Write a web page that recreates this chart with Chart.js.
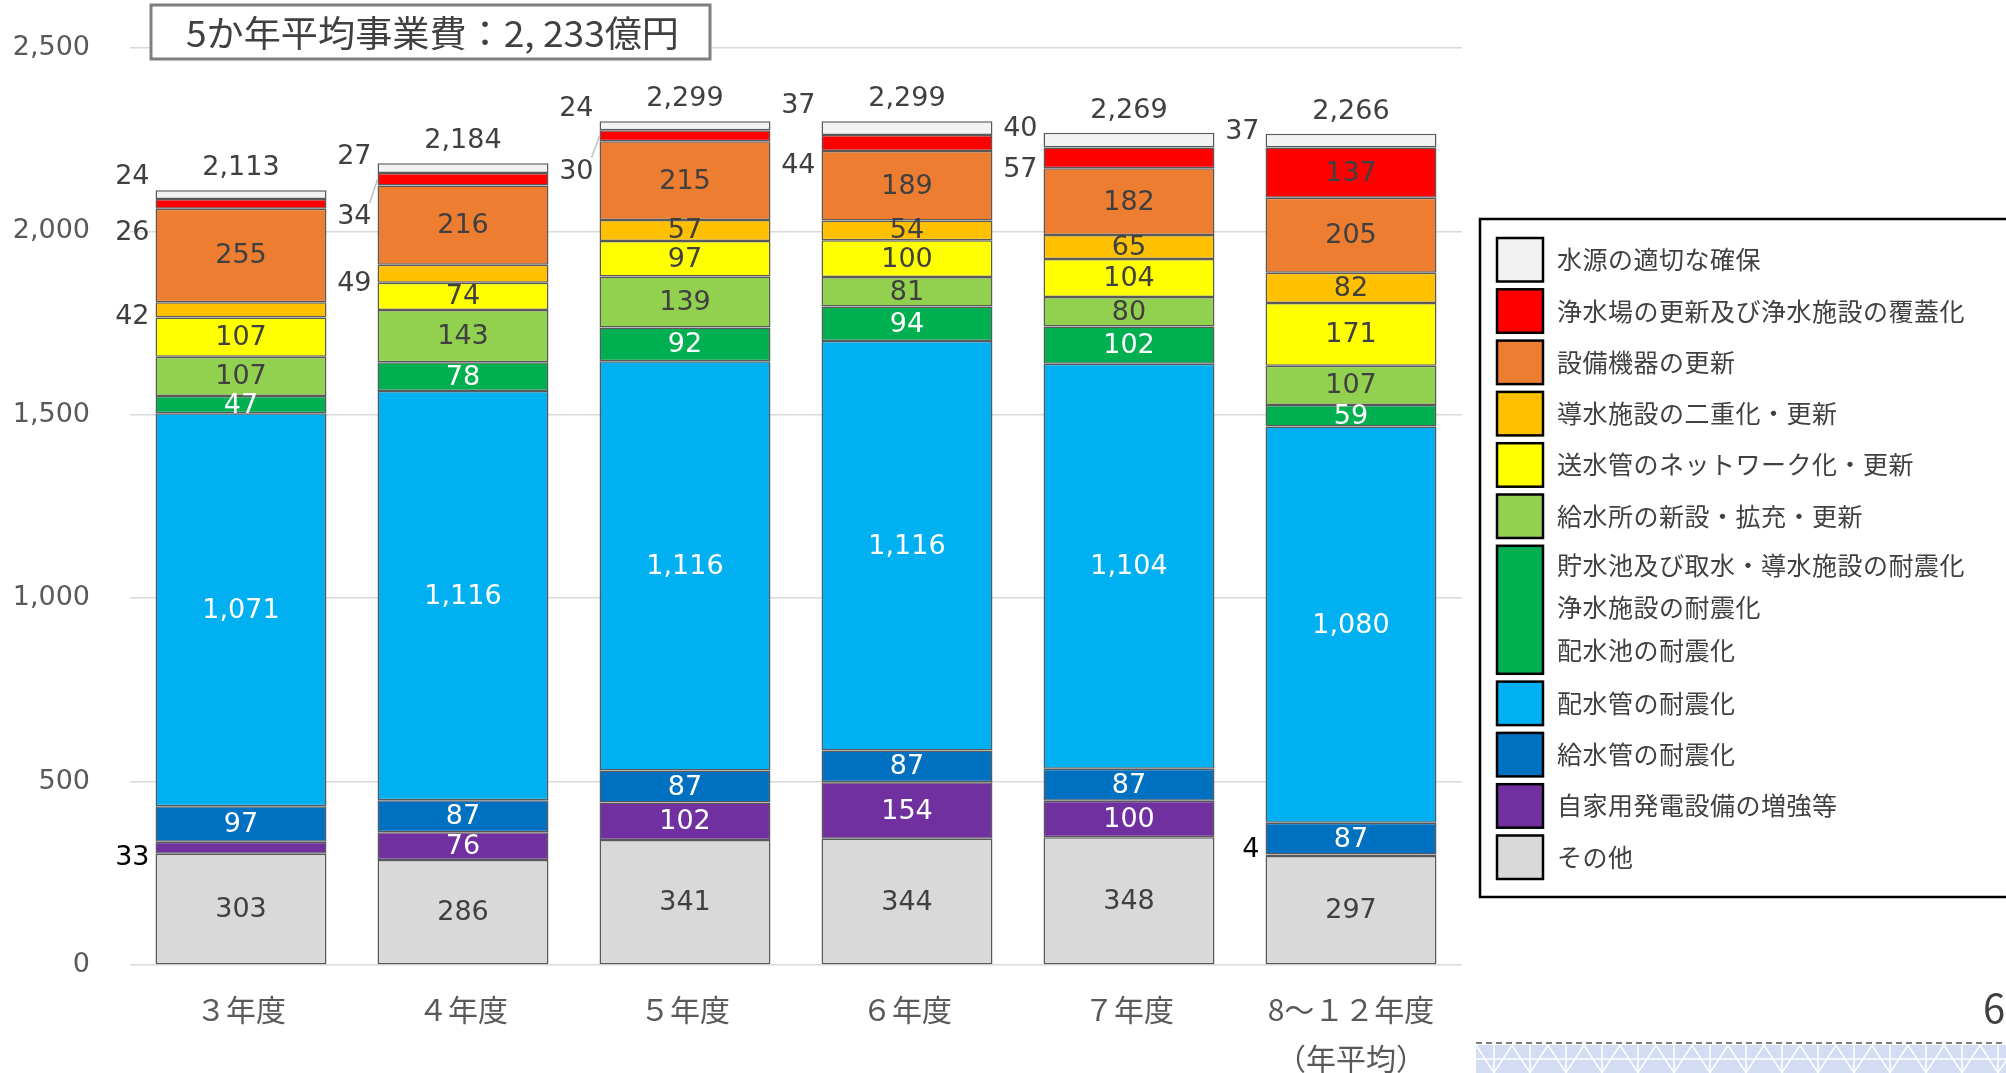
<!DOCTYPE html>
<html lang="ja">
<head>
<meta charset="utf-8">
<title>事業費の推移</title>
<script src="https://cdn.jsdelivr.net/npm/chart.js@4.4.1/dist/chart.umd.min.js"></script>
<style>
  html, body { margin: 0; padding: 0; background: #fff; }
  #wrap { width: 2006px; height: 1073px; position: relative; overflow: hidden; }
</style>
</head>
<body>
<div id="wrap"><canvas id="myChart" width="2006" height="1073"></canvas></div>
<script>
// 年度（x軸）
var categories = [['３年度'], ['４年度'], ['５年度'], ['６年度'], ['７年度'], ['8～１２年度', '（年平均）']];

// 各事業の事業費（億円）、下から積み上げ順
var sonota       = [303, 286, 341, 344, 348, 297];
var jikahatsuden = [33, 76, 102, 154, 100, 4];
var kyusuikan    = [97, 87, 87, 87, 87, 87];
var haisuikan    = [1071, 1116, 1116, 1116, 1104, 1080];
var taishin      = [47, 78, 92, 94, 102, 59];
var kyusuisho    = [107, 143, 139, 81, 80, 107];
var sosuikan     = [107, 74, 97, 100, 104, 171];
var dosui        = [42, 49, 57, 54, 65, 82];
var setsubi      = [255, 216, 215, 189, 182, 205];
var josuijo      = [26, 34, 30, 44, 57, 137];
var suigen       = [24, 27, 24, 37, 40, 37];

// 合計（グラフ上の表示値）
var totals = [2113, 2184, 2299, 2299, 2269, 2266];

// y軸の目盛
var yTicks = [0, 500, 1000, 1500, 2000, 2500];

var titleText = '5か年平均事業費：2, 233億円';

// 系列の定義（下から順）
var series = [
    { key: 'sonota',       data: sonota,       color: '#D9D9D9', text: '#404040', legend: ['その他'] },
    { key: 'jikahatsuden', data: jikahatsuden, color: '#7030A0', text: '#FFFFFF', legend: ['自家用発電設備の増強等'] },
    { key: 'kyusuikan',    data: kyusuikan,    color: '#0070C0', text: '#FFFFFF', legend: ['給水管の耐震化'] },
    { key: 'haisuikan',    data: haisuikan,    color: '#00B0F0', text: '#FFFFFF', legend: ['配水管の耐震化'] },
    { key: 'taishin',      data: taishin,      color: '#00B050', text: '#FFFFFF', legend: ['貯水池及び取水・導水施設の耐震化', '浄水施設の耐震化', '配水池の耐震化'] },
    { key: 'kyusuisho',    data: kyusuisho,    color: '#92D050', text: '#404040', legend: ['給水所の新設・拡充・更新'] },
    { key: 'sosuikan',     data: sosuikan,     color: '#FFFF00', text: '#404040', legend: ['送水管のネットワーク化・更新'] },
    { key: 'dosui',        data: dosui,        color: '#FFC000', text: '#404040', legend: ['導水施設の二重化・更新'] },
    { key: 'setsubi',      data: setsubi,      color: '#ED7D31', text: '#404040', legend: ['設備機器の更新'] },
    { key: 'josuijo',      data: josuijo,      color: '#FF0000', text: '#404040', legend: ['浄水場の更新及び浄水施設の覆蓋化'] },
    { key: 'suigen',       data: suigen,       color: '#F2F2F2', text: '#404040', legend: ['水源の適切な確保'] }
];

// 棒の外（左側）に出すラベルの位置調整
var outsideLabels = [
    { key: 'suigen', i: 0, dy: -18 }, { key: 'josuijo', i: 0, dy: 29 }, { key: 'dosui', i: 0, dy: 7 },
    { key: 'jikahatsuden', i: 0, dy: 10, color: '#000000' },
    { key: 'suigen', i: 1, dy: -11 }, { key: 'josuijo', i: 1, dy: 38, leader: true }, { key: 'dosui', i: 1, dy: 10 },
    { key: 'suigen', i: 2, dy: -17 }, { key: 'josuijo', i: 2, dy: 36, leader: true },
    { key: 'suigen', i: 3, dy: -22 }, { key: 'josuijo', i: 3, dy: 23 },
    { key: 'suigen', i: 4, dy: -11 }, { key: 'josuijo', i: 4, dy: 12 },
    { key: 'suigen', i: 5, dy: -9 }, { key: 'jikahatsuden', i: 5, dy: -5, color: '#000000' }
];

var numFont = "27px 'DejaVu Sans'";
var jpFont = "'Noto Sans CJK JP'";

function fmt(v) { return v.toLocaleString('en-US'); }

function findOutside(key, i) {
    for (var k = 0; k < outsideLabels.length; k++) {
        if (outsideLabels[k].key === key && outsideLabels[k].i === i) return outsideLabels[k];
    }
    return null;
}

// データラベル
var labelPlugin = {
    id: 'labels',
    afterDatasetsDraw: function (chart) {
        var ctx = chart.ctx;
        ctx.save();
        ctx.font = numFont;
        ctx.textBaseline = 'middle';
        chart.data.datasets.forEach(function (ds, di) {
            var meta = chart.getDatasetMeta(di);
            meta.data.forEach(function (bar, i) {
                var cy = (bar.y + bar.base) / 2;
                var out = findOutside(ds.key, i);
                var txt = fmt(ds.data[i]);
                if (out) {
                    var lx = bar.x - bar.width / 2 - 6;
                    var ly = cy + out.dy;
                    ctx.fillStyle = out.color || '#404040';
                    ctx.textAlign = 'right';
                    ctx.fillText(txt, lx, ly);
                    if (out.leader) {
                        ctx.strokeStyle = '#BFBFBF';
                        ctx.lineWidth = 1.5;
                        ctx.beginPath();
                        ctx.moveTo(lx - 2, ly - 14);
                        ctx.lineTo(bar.x - bar.width / 2, cy);
                        ctx.stroke();
                    }
                } else {
                    ctx.fillStyle = ds.textColor;
                    ctx.textAlign = 'center';
                    ctx.fillText(txt, bar.x, cy + 1);
                }
            });
        });
        // 合計
        var topMeta = chart.getDatasetMeta(chart.data.datasets.length - 1);
        ctx.fillStyle = '#404040';
        ctx.textAlign = 'center';
        topMeta.data.forEach(function (bar, i) {
            ctx.fillText(fmt(totals[i]), bar.x, bar.y - 22);
        });
        ctx.restore();
    }
};

// 凡例・タイトル枠・ページ番号
var decoPlugin = {
    id: 'deco',
    afterDraw: function (chart) {
        var ctx = chart.ctx;
        ctx.save();

        // タイトル枠
        ctx.fillStyle = '#FFFFFF';
        ctx.fillRect(151, 5, 559, 54);
        ctx.strokeStyle = '#7F7F7F';
        ctx.lineWidth = 3;
        ctx.strokeRect(151, 5, 559, 54);
        ctx.font = '36px ' + jpFont;
        ctx.fillStyle = '#404040';
        ctx.textBaseline = 'middle';
        ctx.textAlign = 'left';
        var w = ctx.measureText(titleText).width;
        ctx.save();
        ctx.translate(186, 33);
        ctx.scale(493 / w, 1);
        ctx.fillText(titleText, 0, 0);
        ctx.restore();

        // 凡例
        ctx.fillStyle = '#FFFFFF';
        ctx.fillRect(1480, 219, 540, 678);
        ctx.strokeStyle = '#000000';
        ctx.lineWidth = 2.5;
        ctx.strokeRect(1480, 219, 540, 678);
        var y = 238;
        ctx.font = '25px ' + jpFont;
        ctx.letterSpacing = '0.5px';
        for (var k = series.length - 1; k >= 0; k--) {
            var s = series[k];
            var h = s.legend.length > 1 ? 128 : 43.5;
            ctx.fillStyle = s.color;
            ctx.fillRect(1497, y, 46, h);
            ctx.strokeStyle = '#000000';
            ctx.lineWidth = 2.5;
            ctx.strokeRect(1497, y, 46, h);
            ctx.fillStyle = '#404040';
            if (s.legend.length > 1) {
                s.legend.forEach(function (line, j) {
                    ctx.fillText(line, 1557, y + 19.5 + j * 42.5);
                });
            } else {
                ctx.fillText(s.legend[0], 1557, y + h / 2);
            }
            y += h + 7.8;
        }
        ctx.letterSpacing = '0px';

        // ページ番号
        ctx.font = '40px ' + jpFont;
        ctx.fillStyle = '#404040';
        ctx.fillText('6', 1983, 1008);

        // 下部の帯
        ctx.fillStyle = '#D3DCF3';
        ctx.fillRect(1476, 1045, 540, 30);
        ctx.strokeStyle = '#FFFFFF';
        ctx.lineWidth = 1.5;
        for (var x = 1476; x < 2010; x += 36) {
            ctx.beginPath();
            ctx.moveTo(x, 1045); ctx.lineTo(x + 18, 1073); ctx.lineTo(x + 36, 1045);
            ctx.moveTo(x + 18, 1045); ctx.lineTo(x + 18, 1073);
            ctx.moveTo(x, 1059); ctx.lineTo(x + 36, 1059);
            ctx.stroke();
        }
        ctx.strokeStyle = '#555555';
        ctx.lineWidth = 1.5;
        ctx.setLineDash([6, 4]);
        ctx.beginPath();
        ctx.moveTo(1476, 1043);
        ctx.lineTo(2006, 1043);
        ctx.stroke();
        ctx.restore();
    }
};

var datasets = series.map(function (s) {
    return {
        label: s.legend.join(' '),
        key: s.key,
        data: s.data,
        backgroundColor: s.color,
        textColor: s.text,
        borderColor: '#595959',
        borderWidth: 1.5,
        borderSkipped: false,
        barPercentage: 0.77,
        categoryPercentage: 1.0
    };
});

var ctx = document.getElementById('myChart').getContext('2d');
var chart = new Chart(ctx, {
    type: 'bar',
    data: { labels: categories, datasets: datasets },
    options: {
        responsive: false,
        animation: false,
        devicePixelRatio: 1,
        layout: { padding: { top: 48, right: 544, left: 0, bottom: 0 } },
        plugins: {
            legend: { display: false },
            tooltip: { enabled: false }
        },
        scales: {
            x: {
                stacked: true,
                grid: { display: false, drawTicks: false },
                border: { display: false },
                ticks: {
                    color: '#595959',
                    padding: 20,
                    font: { family: 'Noto Sans CJK JP', size: 30, lineHeight: '49px' }
                },
                afterFit: function (scale) { scale.height = 108; }
            },
            y: {
                stacked: true,
                min: 0,
                max: 2500,
                afterBuildTicks: function (scale) {
                    scale.ticks = yTicks.map(function (v) { return { value: v }; });
                },
                grid: { color: '#D9D9D9', lineWidth: 1.5, drawTicks: true, tickLength: 40, tickColor: 'rgba(0,0,0,0)' },
                border: { display: false },
                ticks: {
                    color: '#595959',
                    padding: 0,
                    font: { family: 'DejaVu Sans', size: 27 },
                    callback: function (v) { return fmt(v); }
                },
                afterFit: function (scale) { scale.width = 130; }
            }
        }
    },
    plugins: [labelPlugin, decoPlugin]
});
</script>
</body>
</html>
